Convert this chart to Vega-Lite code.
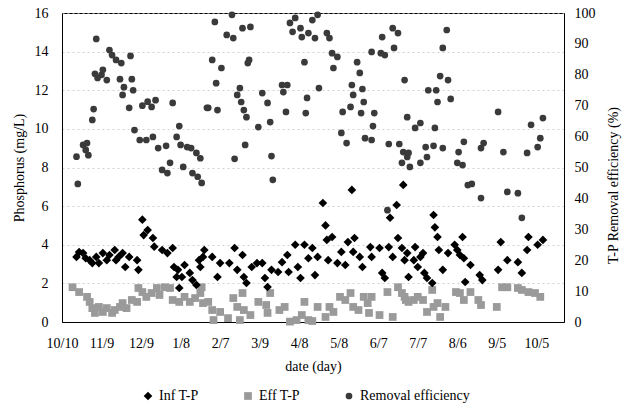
{
  "$schema": "https://vega.github.io/schema/vega-lite/v6.json",
  "autosize": {"type": "none"},
  "padding": {"left": 62, "top": 13, "right": 58, "bottom": 85},
  "width": 502,
  "height": 309,
  "config": {
    "font": "Times New Roman, Liberation Serif, serif",
    "view": {"stroke": "black", "strokeWidth": 1},
    "axis": {"labelFont": "Times New Roman, Liberation Serif, serif", "titleFont": "Times New Roman, Liberation Serif, serif", "labelFontSize": 14, "titleFontSize": 14, "titleFontWeight": "normal", "labelColor": "black", "titleColor": "black", "domainColor": "black", "ticks": false},
    "legend": {"labelFont": "Times New Roman, Liberation Serif, serif", "labelFontSize": 14, "labelColor": "black"}
  },
  "datasets": {
    "tp": [
      {"day": 8, "series": "Eff T-P", "value": 1.8},
      {"day": 13, "series": "Eff T-P", "value": 1.55},
      {"day": 19, "series": "Eff T-P", "value": 1.3},
      {"day": 21, "series": "Eff T-P", "value": 1.04},
      {"day": 23, "series": "Eff T-P", "value": 0.72},
      {"day": 25, "series": "Eff T-P", "value": 0.47},
      {"day": 28, "series": "Eff T-P", "value": 0.78},
      {"day": 31, "series": "Eff T-P", "value": 0.52},
      {"day": 34, "series": "Eff T-P", "value": 0.72},
      {"day": 38, "series": "Eff T-P", "value": 0.47},
      {"day": 40, "series": "Eff T-P", "value": 0.62},
      {"day": 44, "series": "Eff T-P", "value": 0.78},
      {"day": 46, "series": "Eff T-P", "value": 0.98},
      {"day": 49, "series": "Eff T-P", "value": 0.72},
      {"day": 53, "series": "Eff T-P", "value": 1.14},
      {"day": 57, "series": "Eff T-P", "value": 1.04},
      {"day": 58, "series": "Eff T-P", "value": 1.76},
      {"day": 61, "series": "Eff T-P", "value": 1.55},
      {"day": 64, "series": "Eff T-P", "value": 1.3},
      {"day": 68, "series": "Eff T-P", "value": 1.5},
      {"day": 72, "series": "Eff T-P", "value": 1.76},
      {"day": 74, "series": "Eff T-P", "value": 1.4},
      {"day": 78, "series": "Eff T-P", "value": 1.8},
      {"day": 82, "series": "Eff T-P", "value": 1.76},
      {"day": 84, "series": "Eff T-P", "value": 1.14},
      {"day": 89, "series": "Eff T-P", "value": 1.04},
      {"day": 93, "series": "Eff T-P", "value": 1.3},
      {"day": 97, "series": "Eff T-P", "value": 1.04},
      {"day": 101, "series": "Eff T-P", "value": 1.24},
      {"day": 105, "series": "Eff T-P", "value": 1.5},
      {"day": 106, "series": "Eff T-P", "value": 1.8},
      {"day": 107, "series": "Eff T-P", "value": 0.98},
      {"day": 111, "series": "Eff T-P", "value": 1.04},
      {"day": 114, "series": "Eff T-P", "value": 0.62},
      {"day": 115, "series": "Eff T-P", "value": 0.1},
      {"day": 120, "series": "Eff T-P", "value": 0.52},
      {"day": 126, "series": "Eff T-P", "value": 0.2},
      {"day": 130, "series": "Eff T-P", "value": 1.24},
      {"day": 133, "series": "Eff T-P", "value": 0.78},
      {"day": 135, "series": "Eff T-P", "value": 0.1},
      {"day": 137, "series": "Eff T-P", "value": 1.5},
      {"day": 138, "series": "Eff T-P", "value": 0.62},
      {"day": 143, "series": "Eff T-P", "value": 0.36},
      {"day": 149, "series": "Eff T-P", "value": 1.04},
      {"day": 155, "series": "Eff T-P", "value": 0.88},
      {"day": 156, "series": "Eff T-P", "value": 0.47},
      {"day": 158, "series": "Eff T-P", "value": 1.5},
      {"day": 165, "series": "Eff T-P", "value": 0.62},
      {"day": 169, "series": "Eff T-P", "value": 0.78},
      {"day": 173, "series": "Eff T-P", "value": 0.02},
      {"day": 178, "series": "Eff T-P", "value": 0.1},
      {"day": 182, "series": "Eff T-P", "value": 0.36},
      {"day": 184, "series": "Eff T-P", "value": 1.04},
      {"day": 187, "series": "Eff T-P", "value": 0.1},
      {"day": 190, "series": "Eff T-P", "value": 0.05},
      {"day": 194, "series": "Eff T-P", "value": 0.78},
      {"day": 200, "series": "Eff T-P", "value": 0.26},
      {"day": 203, "series": "Eff T-P", "value": 0.78},
      {"day": 206, "series": "Eff T-P", "value": 0.52},
      {"day": 211, "series": "Eff T-P", "value": 1.3},
      {"day": 215, "series": "Eff T-P", "value": 1.14},
      {"day": 219, "series": "Eff T-P", "value": 1.5},
      {"day": 221, "series": "Eff T-P", "value": 0.78},
      {"day": 225, "series": "Eff T-P", "value": 0.62},
      {"day": 229, "series": "Eff T-P", "value": 1.3},
      {"day": 232, "series": "Eff T-P", "value": 0.98},
      {"day": 233, "series": "Eff T-P", "value": 0.47},
      {"day": 235, "series": "Eff T-P", "value": 1.3},
      {"day": 241, "series": "Eff T-P", "value": 0.36},
      {"day": 247, "series": "Eff T-P", "value": 1.55},
      {"day": 251, "series": "Eff T-P", "value": 0.26},
      {"day": 255, "series": "Eff T-P", "value": 1.8},
      {"day": 258, "series": "Eff T-P", "value": 1.5},
      {"day": 260, "series": "Eff T-P", "value": 1.3},
      {"day": 261, "series": "Eff T-P", "value": 1.14},
      {"day": 263, "series": "Eff T-P", "value": 1.04},
      {"day": 267, "series": "Eff T-P", "value": 1.14},
      {"day": 270, "series": "Eff T-P", "value": 1.3},
      {"day": 274, "series": "Eff T-P", "value": 1.14},
      {"day": 277, "series": "Eff T-P", "value": 0.52},
      {"day": 281, "series": "Eff T-P", "value": 1.66},
      {"day": 282, "series": "Eff T-P", "value": 0.78},
      {"day": 285, "series": "Eff T-P", "value": 0.98},
      {"day": 287, "series": "Eff T-P", "value": 0.26},
      {"day": 291, "series": "Eff T-P", "value": 0.78},
      {"day": 299, "series": "Eff T-P", "value": 1.55},
      {"day": 302, "series": "Eff T-P", "value": 1.5},
      {"day": 305, "series": "Eff T-P", "value": 1.14},
      {"day": 310, "series": "Eff T-P", "value": 1.55},
      {"day": 316, "series": "Eff T-P", "value": 1.14},
      {"day": 318, "series": "Eff T-P", "value": 0.88},
      {"day": 330, "series": "Eff T-P", "value": 0.78},
      {"day": 334, "series": "Eff T-P", "value": 1.8},
      {"day": 338, "series": "Eff T-P", "value": 1.8},
      {"day": 346, "series": "Eff T-P", "value": 1.76},
      {"day": 349, "series": "Eff T-P", "value": 1.66},
      {"day": 354, "series": "Eff T-P", "value": 1.55},
      {"day": 359, "series": "Eff T-P", "value": 1.5},
      {"day": 363, "series": "Eff T-P", "value": 1.3},
      {"day": 11, "series": "Inf T-P", "value": 3.37},
      {"day": 13, "series": "Inf T-P", "value": 3.62},
      {"day": 16, "series": "Inf T-P", "value": 3.57},
      {"day": 18, "series": "Inf T-P", "value": 3.3},
      {"day": 21, "series": "Inf T-P", "value": 3.2},
      {"day": 23, "series": "Inf T-P", "value": 3.05},
      {"day": 26, "series": "Inf T-P", "value": 3.37},
      {"day": 28, "series": "Inf T-P", "value": 3.05},
      {"day": 31, "series": "Inf T-P", "value": 3.57},
      {"day": 34, "series": "Inf T-P", "value": 3.2},
      {"day": 36, "series": "Inf T-P", "value": 3.47},
      {"day": 40, "series": "Inf T-P", "value": 3.73},
      {"day": 41, "series": "Inf T-P", "value": 3.2},
      {"day": 43, "series": "Inf T-P", "value": 3.37},
      {"day": 46, "series": "Inf T-P", "value": 3.57},
      {"day": 48, "series": "Inf T-P", "value": 2.85},
      {"day": 51, "series": "Inf T-P", "value": 3.37},
      {"day": 57, "series": "Inf T-P", "value": 3.2},
      {"day": 58, "series": "Inf T-P", "value": 2.7},
      {"day": 61, "series": "Inf T-P", "value": 5.3},
      {"day": 62, "series": "Inf T-P", "value": 4.5},
      {"day": 65, "series": "Inf T-P", "value": 4.76},
      {"day": 69, "series": "Inf T-P", "value": 4.35},
      {"day": 70, "series": "Inf T-P", "value": 3.9},
      {"day": 76, "series": "Inf T-P", "value": 3.73},
      {"day": 80, "series": "Inf T-P", "value": 3.57},
      {"day": 84, "series": "Inf T-P", "value": 3.83},
      {"day": 85, "series": "Inf T-P", "value": 2.85},
      {"day": 88, "series": "Inf T-P", "value": 2.7},
      {"day": 87, "series": "Inf T-P", "value": 2.33},
      {"day": 89, "series": "Inf T-P", "value": 1.76},
      {"day": 91, "series": "Inf T-P", "value": 2.33},
      {"day": 93, "series": "Inf T-P", "value": 2.95},
      {"day": 97, "series": "Inf T-P", "value": 2.54},
      {"day": 99, "series": "Inf T-P", "value": 2.17},
      {"day": 102, "series": "Inf T-P", "value": 1.92},
      {"day": 104, "series": "Inf T-P", "value": 3.2},
      {"day": 105, "series": "Inf T-P", "value": 2.85},
      {"day": 107, "series": "Inf T-P", "value": 3.37},
      {"day": 108, "series": "Inf T-P", "value": 3.73},
      {"day": 114, "series": "Inf T-P", "value": 3.37},
      {"day": 118, "series": "Inf T-P", "value": 2.33},
      {"day": 120, "series": "Inf T-P", "value": 3.05},
      {"day": 127, "series": "Inf T-P", "value": 3.05},
      {"day": 131, "series": "Inf T-P", "value": 3.83},
      {"day": 133, "series": "Inf T-P", "value": 2.7},
      {"day": 137, "series": "Inf T-P", "value": 3.47},
      {"day": 138, "series": "Inf T-P", "value": 2.33},
      {"day": 140, "series": "Inf T-P", "value": 2.02},
      {"day": 144, "series": "Inf T-P", "value": 2.85},
      {"day": 148, "series": "Inf T-P", "value": 3.05},
      {"day": 152, "series": "Inf T-P", "value": 3.05},
      {"day": 154, "series": "Inf T-P", "value": 2.28},
      {"day": 156, "series": "Inf T-P", "value": 1.81},
      {"day": 159, "series": "Inf T-P", "value": 2.7},
      {"day": 164, "series": "Inf T-P", "value": 2.59},
      {"day": 167, "series": "Inf T-P", "value": 3.1},
      {"day": 171, "series": "Inf T-P", "value": 3.47},
      {"day": 172, "series": "Inf T-P", "value": 2.59},
      {"day": 177, "series": "Inf T-P", "value": 4.0},
      {"day": 179, "series": "Inf T-P", "value": 2.85},
      {"day": 181, "series": "Inf T-P", "value": 2.28},
      {"day": 184, "series": "Inf T-P", "value": 4.0},
      {"day": 187, "series": "Inf T-P", "value": 3.3},
      {"day": 190, "series": "Inf T-P", "value": 3.83},
      {"day": 192, "series": "Inf T-P", "value": 2.43},
      {"day": 194, "series": "Inf T-P", "value": 3.37},
      {"day": 198, "series": "Inf T-P", "value": 6.16},
      {"day": 200, "series": "Inf T-P", "value": 5.0},
      {"day": 201, "series": "Inf T-P", "value": 4.25},
      {"day": 202, "series": "Inf T-P", "value": 3.2},
      {"day": 205, "series": "Inf T-P", "value": 4.4},
      {"day": 209, "series": "Inf T-P", "value": 3.05},
      {"day": 212, "series": "Inf T-P", "value": 3.63},
      {"day": 215, "series": "Inf T-P", "value": 2.95},
      {"day": 217, "series": "Inf T-P", "value": 4.14},
      {"day": 220, "series": "Inf T-P", "value": 6.84},
      {"day": 221, "series": "Inf T-P", "value": 3.63},
      {"day": 222, "series": "Inf T-P", "value": 4.35},
      {"day": 226, "series": "Inf T-P", "value": 3.37},
      {"day": 228, "series": "Inf T-P", "value": 2.85},
      {"day": 234, "series": "Inf T-P", "value": 3.88},
      {"day": 235, "series": "Inf T-P", "value": 3.37},
      {"day": 241, "series": "Inf T-P", "value": 3.83},
      {"day": 243, "series": "Inf T-P", "value": 2.54},
      {"day": 245, "series": "Inf T-P", "value": 2.28},
      {"day": 248, "series": "Inf T-P", "value": 3.88},
      {"day": 249, "series": "Inf T-P", "value": 5.4},
      {"day": 251, "series": "Inf T-P", "value": 3.37},
      {"day": 254, "series": "Inf T-P", "value": 6.06},
      {"day": 255, "series": "Inf T-P", "value": 4.35},
      {"day": 258, "series": "Inf T-P", "value": 3.83},
      {"day": 259, "series": "Inf T-P", "value": 7.1},
      {"day": 260, "series": "Inf T-P", "value": 3.2},
      {"day": 262, "series": "Inf T-P", "value": 3.57},
      {"day": 263, "series": "Inf T-P", "value": 2.33},
      {"day": 267, "series": "Inf T-P", "value": 3.2},
      {"day": 268, "series": "Inf T-P", "value": 3.88},
      {"day": 270, "series": "Inf T-P", "value": 2.85},
      {"day": 272, "series": "Inf T-P", "value": 3.37},
      {"day": 274, "series": "Inf T-P", "value": 3.57},
      {"day": 275, "series": "Inf T-P", "value": 2.54},
      {"day": 277, "series": "Inf T-P", "value": 2.28},
      {"day": 281, "series": "Inf T-P", "value": 2.02},
      {"day": 282, "series": "Inf T-P", "value": 5.54},
      {"day": 283, "series": "Inf T-P", "value": 4.9},
      {"day": 285, "series": "Inf T-P", "value": 4.4},
      {"day": 286, "series": "Inf T-P", "value": 3.73},
      {"day": 289, "series": "Inf T-P", "value": 2.7},
      {"day": 293, "series": "Inf T-P", "value": 3.57},
      {"day": 298, "series": "Inf T-P", "value": 4.0},
      {"day": 300, "series": "Inf T-P", "value": 3.73},
      {"day": 302, "series": "Inf T-P", "value": 3.47},
      {"day": 304, "series": "Inf T-P", "value": 4.4},
      {"day": 305, "series": "Inf T-P", "value": 3.3},
      {"day": 306, "series": "Inf T-P", "value": 2.07},
      {"day": 310, "series": "Inf T-P", "value": 2.95},
      {"day": 317, "series": "Inf T-P", "value": 2.43},
      {"day": 319, "series": "Inf T-P", "value": 2.17},
      {"day": 331, "series": "Inf T-P", "value": 2.7},
      {"day": 333, "series": "Inf T-P", "value": 4.14},
      {"day": 338, "series": "Inf T-P", "value": 3.2},
      {"day": 346, "series": "Inf T-P", "value": 3.1},
      {"day": 349, "series": "Inf T-P", "value": 2.54},
      {"day": 353, "series": "Inf T-P", "value": 3.73},
      {"day": 354, "series": "Inf T-P", "value": 4.4},
      {"day": 361, "series": "Inf T-P", "value": 4.0},
      {"day": 365, "series": "Inf T-P", "value": 4.25}
    ],
    "rem": [
      {"day": 12, "series": "Removal efficiency", "value": 44.7},
      {"day": 11, "series": "Removal efficiency", "value": 53.5},
      {"day": 16, "series": "Removal efficiency", "value": 57.3},
      {"day": 18, "series": "Removal efficiency", "value": 55.7},
      {"day": 19, "series": "Removal efficiency", "value": 57.9},
      {"day": 20, "series": "Removal efficiency", "value": 54.0},
      {"day": 23, "series": "Removal efficiency", "value": 65.4},
      {"day": 24, "series": "Removal efficiency", "value": 68.9},
      {"day": 26, "series": "Removal efficiency", "value": 91.6},
      {"day": 25, "series": "Removal efficiency", "value": 80.3},
      {"day": 27, "series": "Removal efficiency", "value": 79.0},
      {"day": 30, "series": "Removal efficiency", "value": 80.0},
      {"day": 31, "series": "Removal efficiency", "value": 81.6},
      {"day": 34, "series": "Removal efficiency", "value": 78.3},
      {"day": 36, "series": "Removal efficiency", "value": 88.0},
      {"day": 38, "series": "Removal efficiency", "value": 86.4},
      {"day": 41, "series": "Removal efficiency", "value": 84.8},
      {"day": 45, "series": "Removal efficiency", "value": 83.8},
      {"day": 52, "series": "Removal efficiency", "value": 86.1},
      {"day": 44, "series": "Removal efficiency", "value": 78.6},
      {"day": 53, "series": "Removal efficiency", "value": 78.6},
      {"day": 47, "series": "Removal efficiency", "value": 76.0},
      {"day": 54, "series": "Removal efficiency", "value": 75.0},
      {"day": 46, "series": "Removal efficiency", "value": 73.5},
      {"day": 51, "series": "Removal efficiency", "value": 69.3},
      {"day": 61, "series": "Removal efficiency", "value": 70.0},
      {"day": 65, "series": "Removal efficiency", "value": 71.3},
      {"day": 71, "series": "Removal efficiency", "value": 71.8},
      {"day": 68, "series": "Removal efficiency", "value": 69.6},
      {"day": 84, "series": "Removal efficiency", "value": 70.9},
      {"day": 110, "series": "Removal efficiency", "value": 69.3},
      {"day": 55, "series": "Removal efficiency", "value": 62.1},
      {"day": 59, "series": "Removal efficiency", "value": 58.9},
      {"day": 64, "series": "Removal efficiency", "value": 58.9},
      {"day": 69, "series": "Removal efficiency", "value": 59.9},
      {"day": 73, "series": "Removal efficiency", "value": 56.3},
      {"day": 79, "series": "Removal efficiency", "value": 57.0},
      {"day": 89, "series": "Removal efficiency", "value": 63.4},
      {"day": 87, "series": "Removal efficiency", "value": 59.9},
      {"day": 90, "series": "Removal efficiency", "value": 57.3},
      {"day": 95, "series": "Removal efficiency", "value": 56.6},
      {"day": 98, "series": "Removal efficiency", "value": 56.3},
      {"day": 102, "series": "Removal efficiency", "value": 54.7},
      {"day": 105, "series": "Removal efficiency", "value": 53.0},
      {"day": 76, "series": "Removal efficiency", "value": 49.2},
      {"day": 82, "series": "Removal efficiency", "value": 51.5},
      {"day": 80, "series": "Removal efficiency", "value": 48.2},
      {"day": 92, "series": "Removal efficiency", "value": 50.2},
      {"day": 99, "series": "Removal efficiency", "value": 48.2},
      {"day": 103, "series": "Removal efficiency", "value": 47.0},
      {"day": 106, "series": "Removal efficiency", "value": 45.0},
      {"day": 116, "series": "Removal efficiency", "value": 97.1},
      {"day": 129, "series": "Removal efficiency", "value": 99.4},
      {"day": 125, "series": "Removal efficiency", "value": 92.9},
      {"day": 130, "series": "Removal efficiency", "value": 91.9},
      {"day": 137, "series": "Removal efficiency", "value": 95.1},
      {"day": 143, "series": "Removal efficiency", "value": 95.5},
      {"day": 173, "series": "Removal efficiency", "value": 96.8},
      {"day": 177, "series": "Removal efficiency", "value": 98.4},
      {"day": 175, "series": "Removal efficiency", "value": 93.9},
      {"day": 181, "series": "Removal efficiency", "value": 95.1},
      {"day": 182, "series": "Removal efficiency", "value": 92.2},
      {"day": 187, "series": "Removal efficiency", "value": 93.5},
      {"day": 192, "series": "Removal efficiency", "value": 91.9},
      {"day": 190, "series": "Removal efficiency", "value": 97.7},
      {"day": 194, "series": "Removal efficiency", "value": 99.4},
      {"day": 201, "series": "Removal efficiency", "value": 93.5},
      {"day": 203, "series": "Removal efficiency", "value": 91.9},
      {"day": 114, "series": "Removal efficiency", "value": 84.8},
      {"day": 121, "series": "Removal efficiency", "value": 82.2},
      {"day": 142, "series": "Removal efficiency", "value": 84.8},
      {"day": 141, "series": "Removal efficiency", "value": 83.8},
      {"day": 184, "series": "Removal efficiency", "value": 84.1},
      {"day": 205, "series": "Removal efficiency", "value": 87.0},
      {"day": 209, "series": "Removal efficiency", "value": 85.8},
      {"day": 206, "series": "Removal efficiency", "value": 82.2},
      {"day": 224, "series": "Removal efficiency", "value": 84.1},
      {"day": 226, "series": "Removal efficiency", "value": 80.6},
      {"day": 235, "series": "Removal efficiency", "value": 87.4},
      {"day": 242, "series": "Removal efficiency", "value": 87.0},
      {"day": 245, "series": "Removal efficiency", "value": 86.4},
      {"day": 243, "series": "Removal efficiency", "value": 92.2},
      {"day": 251, "series": "Removal efficiency", "value": 95.1},
      {"day": 255, "series": "Removal efficiency", "value": 93.5},
      {"day": 252, "series": "Removal efficiency", "value": 88.7},
      {"day": 260, "series": "Removal efficiency", "value": 78.3},
      {"day": 117, "series": "Removal efficiency", "value": 77.3},
      {"day": 111, "series": "Removal efficiency", "value": 69.3},
      {"day": 118, "series": "Removal efficiency", "value": 68.6},
      {"day": 135, "series": "Removal efficiency", "value": 75.7},
      {"day": 133, "series": "Removal efficiency", "value": 73.5},
      {"day": 136, "series": "Removal efficiency", "value": 71.2},
      {"day": 138, "series": "Removal efficiency", "value": 68.6},
      {"day": 140, "series": "Removal efficiency", "value": 66.3},
      {"day": 152, "series": "Removal efficiency", "value": 74.1},
      {"day": 156, "series": "Removal efficiency", "value": 70.9},
      {"day": 149, "series": "Removal efficiency", "value": 63.1},
      {"day": 158, "series": "Removal efficiency", "value": 64.7},
      {"day": 139, "series": "Removal efficiency", "value": 57.3},
      {"day": 131, "series": "Removal efficiency", "value": 52.8},
      {"day": 159, "series": "Removal efficiency", "value": 53.7},
      {"day": 160, "series": "Removal efficiency", "value": 46.0},
      {"day": 167, "series": "Removal efficiency", "value": 76.7},
      {"day": 171, "series": "Removal efficiency", "value": 76.7},
      {"day": 168, "series": "Removal efficiency", "value": 74.4},
      {"day": 170, "series": "Removal efficiency", "value": 68.0},
      {"day": 186, "series": "Removal efficiency", "value": 72.5},
      {"day": 185, "series": "Removal efficiency", "value": 67.6},
      {"day": 195, "series": "Removal efficiency", "value": 75.7},
      {"day": 220, "series": "Removal efficiency", "value": 76.7},
      {"day": 221, "series": "Removal efficiency", "value": 73.5},
      {"day": 228, "series": "Removal efficiency", "value": 75.4},
      {"day": 229, "series": "Removal efficiency", "value": 71.2},
      {"day": 213, "series": "Removal efficiency", "value": 68.0},
      {"day": 219, "series": "Removal efficiency", "value": 69.6},
      {"day": 227, "series": "Removal efficiency", "value": 67.6},
      {"day": 237, "series": "Removal efficiency", "value": 67.6},
      {"day": 236, "series": "Removal efficiency", "value": 63.4},
      {"day": 212, "series": "Removal efficiency", "value": 61.2},
      {"day": 216, "series": "Removal efficiency", "value": 57.9},
      {"day": 230, "series": "Removal efficiency", "value": 59.5},
      {"day": 235, "series": "Removal efficiency", "value": 58.9},
      {"day": 248, "series": "Removal efficiency", "value": 57.6},
      {"day": 256, "series": "Removal efficiency", "value": 57.6},
      {"day": 259, "series": "Removal efficiency", "value": 55.0},
      {"day": 258, "series": "Removal efficiency", "value": 51.5},
      {"day": 262, "series": "Removal efficiency", "value": 53.4},
      {"day": 262, "series": "Removal efficiency", "value": 66.3},
      {"day": 247, "series": "Removal efficiency", "value": 36.2},
      {"day": 292, "series": "Removal efficiency", "value": 94.5},
      {"day": 289, "series": "Removal efficiency", "value": 88.7},
      {"day": 287, "series": "Removal efficiency", "value": 79.6},
      {"day": 293, "series": "Removal efficiency", "value": 78.3},
      {"day": 278, "series": "Removal efficiency", "value": 75.0},
      {"day": 284, "series": "Removal efficiency", "value": 75.0},
      {"day": 285, "series": "Removal efficiency", "value": 71.2},
      {"day": 295, "series": "Removal efficiency", "value": 72.2},
      {"day": 268, "series": "Removal efficiency", "value": 62.8},
      {"day": 272, "series": "Removal efficiency", "value": 64.4},
      {"day": 283, "series": "Removal efficiency", "value": 62.8},
      {"day": 263, "series": "Removal efficiency", "value": 54.7},
      {"day": 276, "series": "Removal efficiency", "value": 56.6},
      {"day": 282, "series": "Removal efficiency", "value": 57.0},
      {"day": 289, "series": "Removal efficiency", "value": 56.3},
      {"day": 301, "series": "Removal efficiency", "value": 55.0},
      {"day": 305, "series": "Removal efficiency", "value": 58.3},
      {"day": 318, "series": "Removal efficiency", "value": 56.3},
      {"day": 320, "series": "Removal efficiency", "value": 57.9},
      {"day": 335, "series": "Removal efficiency", "value": 55.0},
      {"day": 353, "series": "Removal efficiency", "value": 54.7},
      {"day": 361, "series": "Removal efficiency", "value": 56.6},
      {"day": 363, "series": "Removal efficiency", "value": 59.5},
      {"day": 331, "series": "Removal efficiency", "value": 68.0},
      {"day": 356, "series": "Removal efficiency", "value": 63.8},
      {"day": 365, "series": "Removal efficiency", "value": 66.0},
      {"day": 264, "series": "Removal efficiency", "value": 50.2},
      {"day": 272, "series": "Removal efficiency", "value": 51.5},
      {"day": 277, "series": "Removal efficiency", "value": 53.4},
      {"day": 300, "series": "Removal efficiency", "value": 51.5},
      {"day": 304, "series": "Removal efficiency", "value": 50.8},
      {"day": 308, "series": "Removal efficiency", "value": 44.3},
      {"day": 311, "series": "Removal efficiency", "value": 44.7},
      {"day": 318, "series": "Removal efficiency", "value": 40.1},
      {"day": 338, "series": "Removal efficiency", "value": 42.1},
      {"day": 346, "series": "Removal efficiency", "value": 41.7},
      {"day": 349, "series": "Removal efficiency", "value": 33.7}
    ]
  },
  "layer": [
    {
      "data": {"name": "tp"},
      "mark": {"type": "point", "filled": true, "opacity": 1},
      "encoding": {
        "x": {
          "field": "day", "type": "quantitative",
          "scale": {"domain": [0, 381], "nice": false, "zero": false},
          "axis": {
            "title": "date (day)", "values": [0, 30, 60, 90, 120, 150, 180, 210, 240, 270, 300, 330, 360],
            "labelExpr": "['10/10','11/9','12/9','1/8','2/7','3/9','4/8','5/8','6/7','7/7','8/6','9/5','10/5'][round(datum.value/30)]",
            "labelPadding": 14, "titlePadding": 9, "grid": false, "labelFlush": false
          }
        },
        "y": {
          "field": "value", "type": "quantitative",
          "scale": {"domain": [0, 16], "nice": false},
          "axis": {
            "title": "Phosphorus (mg/L)", "values": [0, 2, 4, 6, 8, 10, 12, 14, 16],
            "labelPadding": 14, "titlePadding": 8, "grid": true, "gridColor": "#bdbdbd", "gridDash": [2, 3], "gridOpacity": 0.7
          }
        },
        "color": {
          "field": "series", "type": "nominal",
          "scale": {"domain": ["Inf T-P", "Eff T-P", "Removal efficiency"], "range": ["#000000", "#9a9a9a", "#3a3a3a"]},
          "legend": {"title": null, "orient": "none", "legendX": 79, "legendY": 376, "direction": "horizontal", "columnPadding": 42, "symbolSize": 45, "labelFontSize": 14, "symbolStrokeWidth": 0}
        },
        "shape": {
          "field": "series", "type": "nominal",
          "scale": {"domain": ["Inf T-P", "Eff T-P", "Removal efficiency"], "range": ["diamond", "square", "circle"]}
        },
        "size": {
          "field": "series", "type": "nominal",
          "scale": {"domain": ["Inf T-P", "Eff T-P", "Removal efficiency"], "range": [75, 45, 55]},
          "legend": null
        }
      }
    },
    {
      "data": {"name": "rem"},
      "mark": {"type": "point", "filled": true, "opacity": 1},
      "encoding": {
        "x": {"field": "day", "type": "quantitative"},
        "y": {
          "field": "value", "type": "quantitative",
          "scale": {"domain": [0, 100], "nice": false},
          "axis": {
            "orient": "right", "title": "T-P Removal efficiency (%)", "values": [0, 10, 20, 30, 40, 50, 60, 70, 80, 90, 100],
            "labelPadding": 10, "titleAngle": 270, "titleX": 49, "titleY": 172, "titleAlign": "center", "titleBaseline": "middle", "grid": false
          }
        },
        "color": {"field": "series", "type": "nominal"},
        "shape": {"field": "series", "type": "nominal"},
        "size": {"field": "series", "type": "nominal", "legend": null}
      }
    }
  ],
  "resolve": {"scale": {"y": "independent"}}
}
